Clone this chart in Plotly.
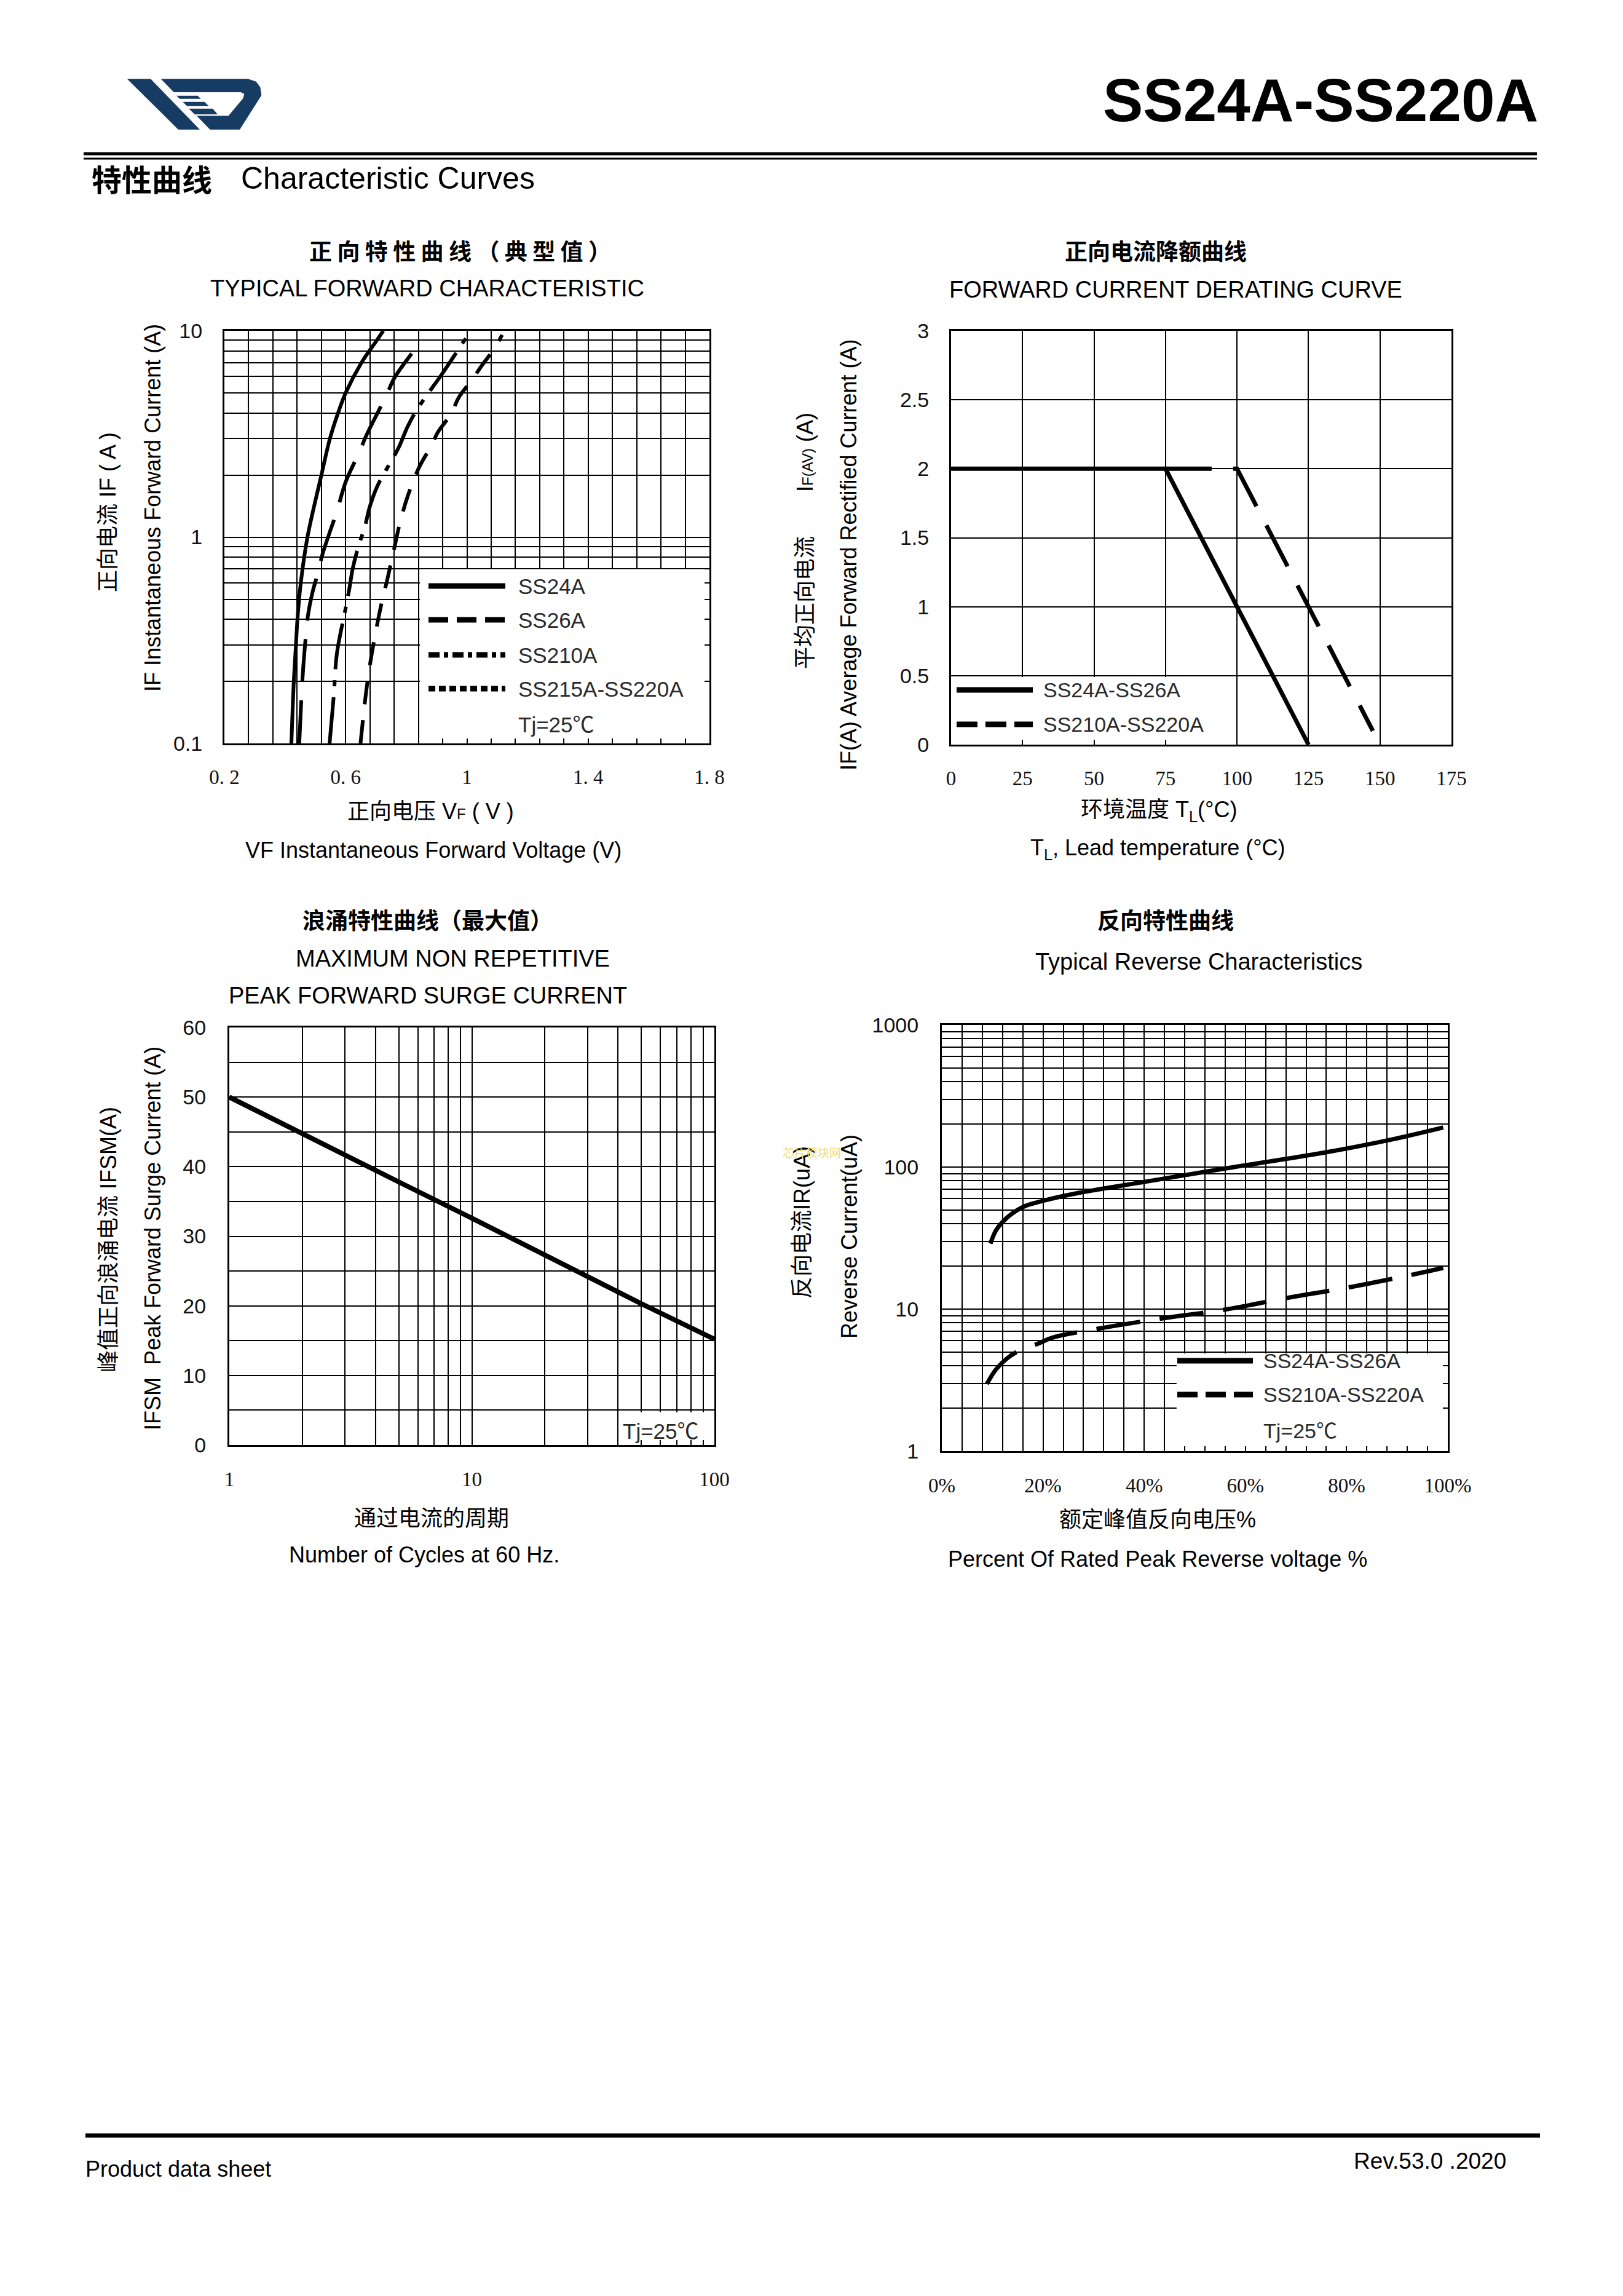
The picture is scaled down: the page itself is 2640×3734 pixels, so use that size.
import plotly.graph_objects as go

W, H = 2640, 3734

# ---------------- data ----------------
# Chart 1 : typical forward characteristic (VF [V], IF [A])
vf_ss24a = [0.421, 0.429, 0.436, 0.441, 0.452, 0.474, 0.520, 0.548, 0.575, 0.600, 0.652, 0.703, 0.724]
if_ss24a = [0.1, 0.2, 0.3, 0.4, 0.6, 1.0, 2.0, 3.0, 4.0, 5.0, 7.0, 9.0, 10.0]
vf_ss26a = [0.447, 0.457, 0.466, 0.476, 0.492, 0.510, 0.523, 0.547, 0.571, 0.600, 0.646, 0.670, 0.734, 0.762, 0.847]
if_ss26a = [0.1, 0.2, 0.3, 0.42, 0.55, 0.68, 0.82, 1.05, 1.33, 1.85, 2.6, 3.15, 4.85, 5.95, 8.8]
vf_ss210a = [0.547, 0.561, 0.571, 0.599, 0.612, 0.623, 0.640, 0.663, 0.680, 0.704, 0.775, 0.803, 0.833, 0.922, 0.959, 0.997, 1.02]
if_ss210a = [0.1, 0.172, 0.272, 0.445, 0.56, 0.70, 0.88, 1.12, 1.41, 1.76, 2.72, 3.4, 4.1, 6.3, 7.6, 9.2, 10.0]
vf_ss215a = [0.649, 0.657, 0.668, 0.682, 0.698, 0.716, 0.737, 0.758, 0.779, 0.806, 0.843, 0.881, 0.905, 0.949, 0.973, 1.017, 1.051, 1.095, 1.116]
if_ss215a = [0.1, 0.13, 0.18, 0.25, 0.34, 0.46, 0.62, 0.85, 1.17, 1.6, 2.19, 2.75, 3.24, 3.98, 4.75, 5.8, 6.84, 8.4, 9.56]

# Chart 2 : forward current derating curve (TL [°C], IF(AV) [A])
tl_ss24a_26a = [0, 75, 125]
if_ss24a_26a = [2.0, 2.0, 0.0]
tl_ss210a_220a = [75, 100, 147.5]
if_ss210a_220a = [2.0, 2.0, 0.1]

# Chart 3 : max non repetitive peak forward surge current
cycles = [1, 2, 5, 10, 20, 50, 100]
ifsm = [50.0, 44.7, 37.8, 32.6, 27.3, 20.3, 15.2]

# Chart 4 : typical reverse characteristics (% of rated VR, IR [uA])
vr_ss24a_26a = [9.6, 10.7, 12.1, 13.8, 16.5, 20.1, 26.3, 40.2, 57.6, 75.4, 88.8, 99.1]
ir_ss24a_26a = [28.9, 35.8, 41.4, 46.8, 53.2, 58.0, 65.0, 78.8, 99.8, 126, 156, 190]
vr_ss210a_220a = [8.9, 10.7, 12.9, 15.2, 18.75, 21.9, 30.8, 43.3, 55.8, 68.3, 79.9, 92.4, 99.1]
ir_ss210a_220a = [2.97, 3.76, 4.5, 5.08, 5.66, 6.3, 7.27, 8.57, 9.9, 12.0, 14.1, 17.3, 19.5]

# tick labels
x1_labels = {0.2: "0. 2", 0.6: "0. 6", 1.0: "1", 1.4: "1. 4", 1.8: "1. 8"}
y1_labels = {0.1: "0.1", 1: "1", 10: "10"}
x2_labels = ["0", "25", "50", "75", "100", "125", "150", "175"]
y2_labels = ["0", "0.5", "1", "1.5", "2", "2.5", "3"]
x3_labels = {1: "1", 10: "10", 100: "100"}
y3_labels = ["0", "10", "20", "30", "40", "50", "60"]
x4_labels = ["0%", "20%", "40%", "60%", "80%", "100%"]
y4_labels = {1: "1", 10: "10", 100: "100", 1000: "1000"}

# ---------------- helpers ----------------
def fx(p):
    return p / W


def fy(p):
    return 1 - p / H


BLACK = "#000000"
SANS = "Liberation Sans, Arial, Noto Sans CJK SC, sans-serif"
SERIF = "Liberation Serif, DejaVu Serif, serif"
CJK = "Liberation Sans, Noto Sans CJK SC, sans-serif"
NAVY = "#163c63"


def log_ticks(lo_exp, hi_exp, labels):
    vals, texts = [], []
    for e in range(lo_exp, hi_exp):
        for m in range(1, 10):
            v = round(m * 10 ** e, 6)
            vals.append(v)
            texts.append(labels.get(v, ""))
    v = round(10 ** hi_exp, 6)
    vals.append(v)
    texts.append(labels.get(v, ""))
    return vals, texts


def axis(domain, **kw):
    d = dict(domain=domain, showgrid=True, gridcolor=BLACK, gridwidth=2,
             showline=True, linecolor=BLACK, linewidth=3, mirror="allticks",
             ticks="inside", ticklen=8, tickwidth=2, tickcolor=BLACK,
             zeroline=False, fixedrange=True, tickmode="array", automargin=False)
    d.update(kw)
    return d


fig = go.Figure()

# ---------------- chart 1 traces ----------------
fig.add_trace(go.Scatter(x=vf_ss24a, y=if_ss24a, mode="lines", line=dict(color=BLACK, width=6, shape="spline"),
                         xaxis="x", yaxis="y", showlegend=False, name="SS24A"))
fig.add_trace(go.Scatter(x=vf_ss26a, y=if_ss26a, mode="lines",
                         line=dict(color=BLACK, width=6, dash="70px,30px", shape="spline"),
                         xaxis="x", yaxis="y", showlegend=False, name="SS26A"))
fig.add_trace(go.Scatter(x=vf_ss210a, y=if_ss210a, mode="lines",
                         line=dict(color=BLACK, width=6, dash="75px,18px,10px,18px", shape="spline"),
                         xaxis="x", yaxis="y", showlegend=False, name="SS210A"))
fig.add_trace(go.Scatter(x=vf_ss215a, y=if_ss215a, mode="lines",
                         line=dict(color=BLACK, width=6, dash="38px,26px", shape="spline"),
                         xaxis="x", yaxis="y", showlegend=False, name="SS215A-SS220A"))

# ---------------- chart 2 traces ----------------
fig.add_trace(go.Scatter(x=tl_ss210a_220a, y=if_ss210a_220a, mode="lines",
                         line=dict(color=BLACK, width=7, dash="75px,35px"),
                         xaxis="x2", yaxis="y2", showlegend=False, name="SS210A-SS220A"))
fig.add_trace(go.Scatter(x=tl_ss24a_26a, y=if_ss24a_26a, mode="lines",
                         line=dict(color=BLACK, width=7),
                         xaxis="x2", yaxis="y2", showlegend=False, name="SS24A-SS26A"))

# ---------------- chart 3 traces ----------------
fig.add_trace(go.Scatter(x=cycles, y=ifsm, mode="lines", line=dict(color=BLACK, width=8),
                         xaxis="x3", yaxis="y3", showlegend=False, name="IFSM"))

# ---------------- chart 4 traces ----------------
fig.add_trace(go.Scatter(x=vr_ss24a_26a, y=ir_ss24a_26a, mode="lines",
                         line=dict(color=BLACK, width=7, shape="spline"),
                         xaxis="x4", yaxis="y4", showlegend=False, name="SS24A-SS26A"))
fig.add_trace(go.Scatter(x=vr_ss210a_220a, y=ir_ss210a_220a, mode="lines",
                         line=dict(color=BLACK, width=7, dash="72px,32px", shape="spline"),
                         xaxis="x4", yaxis="y4", showlegend=False, name="SS210A-SS220A"))

# ---------------- axes ----------------
x1_vals = [round(0.2 + 0.08 * k, 4) for k in range(21)]
x1_text = [x1_labels.get(round(v, 2), "") for v in x1_vals]
y1_vals, y1_text = log_ticks(-1, 1, y1_labels)
x2_vals = [25 * k for k in range(8)]
y2_vals = [0.5 * k for k in range(7)]
x3_vals, x3_text = log_ticks(0, 2, x3_labels)
y3_vals = [5 * k for k in range(13)]
y3_text = [y3_labels[k // 2] if k % 2 == 0 else "" for k in range(13)]
x4_vals = [4 * k for k in range(26)]
x4_text = [x4_labels[k // 5] if k % 5 == 0 else "" for k in range(26)]
y4_vals, y4_text = log_ticks(0, 3, y4_labels)

xfont = dict(family=SERIF, size=33, color="#111111")
yfont = dict(family=SANS, size=34, color="#111111")

fig.update_layout(
    xaxis=axis([fx(365), fx(1154)], range=[0.2, 1.8], tickvals=x1_vals, ticktext=x1_text,
               tickfont=xfont, anchor="y", ticklabelstandoff=23),
    yaxis=axis([fy(1209), fy(538)], type="log", range=[-1, 1], tickvals=y1_vals, ticktext=y1_text,
               tickfont=yfont, anchor="x", ticklabelstandoff=26),
    xaxis2=axis([fx(1547), fx(2361)], range=[0, 175], tickvals=x2_vals, ticktext=x2_labels,
                tickfont=xfont, anchor="y2", ticklabelstandoff=23),
    yaxis2=axis([fy(1211), fy(538)], range=[0, 3], tickvals=y2_vals, ticktext=y2_labels,
                tickfont=yfont, anchor="x2", ticklabelstandoff=26),
    xaxis3=axis([fx(373), fx(1162)], type="log", range=[0, 2], tickvals=x3_vals, ticktext=x3_text,
                tickfont=xfont, anchor="y3", ticklabelstandoff=24),
    yaxis3=axis([fy(2350), fy(1671)], range=[0, 60], tickvals=y3_vals, ticktext=y3_text,
                tickfont=yfont, anchor="x3", ticklabelstandoff=28),
    xaxis4=axis([fx(1532), fx(2355)], range=[0, 100], tickvals=x4_vals, ticktext=x4_text,
                tickfont=xfont, anchor="y4", ticklabelstandoff=24),
    yaxis4=axis([fy(2360), fy(1667)], type="log", range=[0, 3], tickvals=y4_vals, ticktext=y4_text,
                tickfont=yfont, anchor="x4", ticklabelstandoff=28),
)

shapes = []
annotations = []


def txt(s, x, y, size, family=SANS, color=BLACK, xanchor="center", yanchor="middle", angle=0):
    annotations.append(dict(text=s, x=fx(x), y=fy(y), xref="paper", yref="paper", showarrow=False,
                            xanchor=xanchor, yanchor=yanchor, textangle=angle,
                            font=dict(family=family, size=size, color=color)))


def hline(x0, x1, y, width, dash="solid", color=BLACK):
    shapes.append(dict(type="line", xref="paper", yref="paper", x0=fx(x0), x1=fx(x1), y0=fy(y), y1=fy(y),
                       line=dict(color=color, width=width, dash=dash), layer="above"))


def whitebox(xa, ya, x0, x1, y0, y1):
    # legend background: drawn above the grid, below the curves
    shapes.append(dict(type="rect", xref=xa, yref=ya, x0=x0, x1=x1, y0=y0, y1=y1,
                       fillcolor="white", line=dict(width=0), layer="between"))


def poly(pts, color, ox=190, oy=110, s=3.0):
    p = "M " + " L ".join("%.6f,%.6f" % (fx(ox + a / s), fy(oy + b / s)) for a, b in pts) + " Z"
    shapes.append(dict(type="path", xref="paper", yref="paper", path=p, fillcolor=color,
                       line=dict(width=0), layer="above"))


# ---------------- header ----------------
poly([(50, 55), (165, 55), (405, 302), (300, 302)], NAVY)
poly([(215, 55), (640, 55), (680, 68), (700, 95), (706, 135), (600, 302), (455, 302)], NAVY)
poly([(275, 120), (605, 120), (622, 128), (616, 150), (545, 235), (390, 235)], "white")
poly([(292, 137), (395, 137), (410, 152), (307, 152)], NAVY)
poly([(322, 167), (428, 167), (448, 187), (342, 187)], NAVY)
poly([(352, 200), (468, 200), (492, 228), (380, 228)], NAVY)

txt("<b>SS24A-SS220A</b>", 2504, 163, 98, family="Liberation Sans, Arial", xanchor="right")
hline(136, 2500, 250, 5)
hline(136, 2500, 258, 3)
txt("<b>特性曲线</b>", 147, 290, 49, family="Noto Sans CJK SC", xanchor="left")
txt("Characteristic Curves", 390, 290, 50, family=SANS, xanchor="left")

# ---------------- chart 1 annotations ----------------
txt("<b>正 向 特 性 曲 线 （ 典 型 值 ）</b>", 748, 407, 37, family="Noto Sans CJK SC")
txt("TYPICAL FORWARD CHARACTERISTIC", 695, 469, 38)
txt("正向电流 IF ( A )", 176, 833, 36, family=CJK, angle=-90)
txt("IF Instantaneous Forward Current (A)", 248, 826, 36, angle=-90)
txt("正向电压 V<span style='font-size:24px'>F</span> ( V )", 700, 1319, 36, family=CJK)
txt("VF Instantaneous Forward Voltage (V)", 705, 1383, 36)

whitebox("x", "y", 0.845, 1.8, 0.1, 0.70)
LEG = "#2a2a2a"
hline(697, 822, 953, 9)
hline(697, 822, 1008, 9, dash="32px,14px")
hline(697, 822, 1065, 9, dash="18px,7px,7px,7px")
hline(697, 822, 1120, 9, dash="11px,6px")
for lab, yy in [("SS24A", 953), ("SS26A", 1008), ("SS210A", 1065), ("SS215A-SS220A", 1120), ("Tj=25℃", 1178)]:
    txt(lab, 841, yy, 35, color=LEG, xanchor="left")

# ---------------- chart 2 annotations ----------------
txt("<b>正向电流降额曲线</b>", 1880, 407, 37, family="Noto Sans CJK SC")
txt("FORWARD CURRENT DERATING CURVE", 1912, 471, 38)
txt("平均正向电流　　I<span style='font-size:24px'>F(AV)</span> (A)", 1309, 880, 36, family=CJK, angle=-90)
txt("IF(A) Average Forward Rectified Current (A)", 1380, 902, 36, angle=-90)
txt("环境温度 T<sub>L</sub>(°C)", 1885, 1319, 36, family=CJK)
txt("T<sub>L</sub>, Lead temperature (°C)", 1883, 1381, 36)

whitebox("x2", "y2", 0, 95, 0, 0.49)
hline(1556, 1680, 1122, 9)
hline(1556, 1680, 1178, 9, dash="34px,13px")
txt("SS24A-SS26A", 1695, 1122, 34, color=LEG, xanchor="left")
txt("SS210A-SS220A", 1695, 1178, 34, color=LEG, xanchor="left")

# ---------------- chart 3 annotations ----------------
txt("<b>浪涌特性曲线（最大值）</b>", 695, 1495, 37, family="Noto Sans CJK SC")
txt("MAXIMUM NON REPETITIVE", 736, 1559, 38)
txt("PEAK FORWARD SURGE CURRENT", 696, 1619, 38)
txt("峰值正向浪涌电流 IFSM(A)", 176, 2016, 36, family=CJK, angle=-90)
txt("IFSM  Peak Forward Surge Current (A)", 248, 2014, 36, angle=-90)
txt("通过电流的周期", 702, 2469, 36, family=CJK)
txt("Number of Cycles at 60 Hz.", 690, 2528, 36)

whitebox("x3", "y3", 40.7, 100, 0, 4.7)
txt("Tj=25℃", 1075, 2327, 35, color=LEG)

# ---------------- chart 4 annotations ----------------
txt("<b>反向特性曲线</b>", 1896, 1495, 37, family="Noto Sans CJK SC")
txt("Typical Reverse Characteristics", 1950, 1564, 38)
txt("反向电流IR(uA)", 1305, 1988, 36, family=CJK, angle=-90)
txt("Reverse Current(uA)", 1381, 2011, 36, angle=-90)
txt("芯片模块网", 1320, 1873, 19, family="Noto Sans CJK SC", color="#f2dc7a")
txt("额定峰值反向电压%", 1883, 2471, 36, family=CJK)
txt("Percent Of Rated Peak Reverse voltage %", 1883, 2535, 36)

whitebox("x4", "y4", 46.4, 100, 1, 4.87)
hline(1915, 2038, 2213, 9)
hline(1915, 2038, 2268, 9, dash="33px,13px")
txt("SS24A-SS26A", 2053, 2213, 34, color=LEG, xanchor="left")
txt("SS210A-SS220A", 2053, 2268, 34, color=LEG, xanchor="left")
txt("Tj=25℃", 2053, 2327, 34, color=LEG, xanchor="left")

# ---------------- footer ----------------
hline(139, 2505, 3473, 7)
txt("Product data sheet", 137, 3527, 36, xanchor="left")
txt("Rev.53.0 .2020", 2452, 3514, 37, xanchor="right")

fig.update_layout(
    width=W, height=H, margin=dict(l=0, r=0, t=0, b=0, pad=0),
    paper_bgcolor="white", plot_bgcolor="white",
    showlegend=False, shapes=shapes, annotations=annotations,
    font=dict(family=SANS, color=BLACK),
)

fig.write_html("out.html", config={"displayModeBar": False, "staticPlot": True},
               post_script="document.body.style.margin='0';document.body.style.overflow='hidden';")
